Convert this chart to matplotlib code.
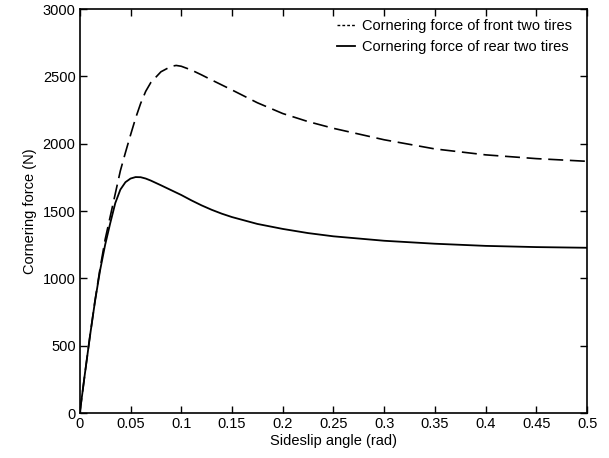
import matplotlib
matplotlib.use("Agg")
import matplotlib.pyplot as plt

sideslip = [0, 0.005, 0.01, 0.015, 0.02, 0.025, 0.03, 0.035, 0.04, 0.045, 0.05,
            0.055, 0.06, 0.065, 0.07, 0.08, 0.09, 0.095, 0.1, 0.11, 0.12, 0.13, 0.14,
            0.15, 0.175, 0.2, 0.225, 0.25, 0.3, 0.35, 0.4, 0.45, 0.5]
front_force = [0, 290, 570, 835, 1075, 1290, 1460, 1630, 1800, 1935, 2065,
               2190, 2300, 2390, 2455, 2535, 2575, 2582, 2576, 2548, 2512, 2474, 2437,
               2400, 2305, 2225, 2165, 2115, 2030, 1962, 1918, 1890, 1870]
rear_force = [0, 290, 570, 830, 1060, 1250, 1410, 1560, 1660, 1715, 1742,
              1753, 1752, 1742, 1727, 1692, 1656, 1638, 1620, 1580, 1543, 1510, 1481,
              1456, 1405, 1368, 1337, 1313, 1280, 1258, 1242, 1233, 1228]

xticks = [0, 0.05, 0.1, 0.15, 0.2, 0.25, 0.3, 0.35, 0.4, 0.45, 0.5]
xticklabels = ["0", "0.05", "0.1", "0.15", "0.2", "0.25", "0.3", "0.35", "0.4", "0.45", "0.5"]
yticks = [0, 500, 1000, 1500, 2000, 2500, 3000]

plt.rcParams["font.family"] = ["Liberation Sans", "DejaVu Sans"]
plt.rcParams["font.size"] = 10.5

fig = plt.figure(figsize=(6.09, 4.58), dpi=100)
ax = fig.add_axes([0.131, 0.098, 0.833, 0.882])

ax.plot(sideslip, front_force, color="black", lw=1.2, dashes=(9, 4),
        label="Cornering force of front two tires")
ax.plot(sideslip, rear_force, color="black", lw=1.3,
        label="Cornering force of rear two tires")

ax.set_xlim(0, 0.5)
ax.set_ylim(0, 3000)
ax.set_xticks(xticks)
ax.set_xticklabels(xticklabels)
ax.set_yticks(yticks)
ax.tick_params(direction="in", top=True, right=True, length=5, width=1, labelsize=10.5, pad=3)
for s in ax.spines.values():
    s.set_linewidth(1.2)

ax.set_xlabel("Sideslip angle (rad)", fontsize=10.5, labelpad=2)
ax.set_ylabel("Cornering force (N)", fontsize=10.5, labelpad=4)

leg = ax.legend(loc="upper right", frameon=False, handlelength=1.2, handletextpad=0.5,
                fontsize=10.5, labelspacing=0.45, borderaxespad=0.3,
                bbox_to_anchor=(0.99, 1.0))
leg.get_lines()[0].set_dashes((2, 1.5))
leg.get_lines()[0].set_linewidth(1.0)

fig.savefig("out.png", dpi=100)
